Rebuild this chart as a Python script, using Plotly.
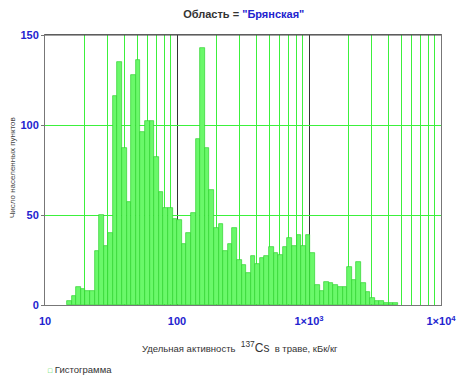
import numpy as np
import plotly.graph_objects as go

# Histogram counts per log-spaced bin (Cs-137 activity in grass, kBq/kg)
counts = [2, 5, 10, 9, 8, 8, 30, 50, 33, 40,
          116, 135, 87, 57, 128, 136, 96, 102, 102, 82,
          63, 54, 54, 48, 47, 34, 40, 51, 92, 143,
          87, 64, 43, 45, 30, 34, 43, 25, 22, 18,
          27, 23, 26, 27, 32, 29, 28, 32, 37, 33,
          39, 33, 39, 29, 11, 8, 13, 12, 11, 10,
          10, 21, 14, 24, 12, 7, 4, 2, 2, 1,
          1, 1]
# binning: first bin lower edge (log10 of kBq/kg) and bin width in decades
LOG_START = 1.1664
LOG_STEP = 0.0348

x_tick_vals = [1, 2, 3, 4]
x_tick_text = ["10", "100", "1×10<sup>3</sup>", "1×10<sup>4</sup>"]
y_tick_vals = [0, 50, 100, 150]
minor_vals = [d + np.log10(m) for d in (1, 2, 3) for m in range(2, 10)]

centers_log = [LOG_START + LOG_STEP * (i + 0.5) for i in range(len(counts))]

BLUE = "#2323cf"
GREEN_GRID = "#3cf03c"
FONT = "Arial, Liberation Sans, sans-serif"

# page body has an 8px default margin, so the figure is offset by 8px
W, H = 460, 373

fig = go.Figure()
fig.add_trace(go.Bar(
    x=centers_log, y=counts, width=LOG_STEP,
    marker=dict(color="#6af86a", line=dict(color="#2ed22e", width=0.7)),
    name="Гистограмма", showlegend=False,
))

fig.update_layout(
    width=W, height=H,
    margin=dict(l=37, r=26.5, t=27, b=76, autoexpand=False),
    paper_bgcolor="white", plot_bgcolor="white",
    bargap=0,
    font=dict(family=FONT, size=10, color="#333"),
    title=dict(
        text='<b>Область = <span style="color:#2323cf">"Брянская"</span></b>',
        x=(244 - 45) / 396.5, xref="paper", y=1 - 6 / H, yref="container",
        xanchor="center", yanchor="middle",
        font=dict(family=FONT, size=11, color="#333"),
    ),
    xaxis=dict(
        range=[1, 4], tickmode="array", tickvals=x_tick_vals, ticktext=x_tick_text,
        automargin=False,
        showgrid=True, gridcolor="#333333", gridwidth=1,
        minor=dict(tickmode="array", tickvals=minor_vals, showgrid=True,
                   gridcolor=GREEN_GRID, gridwidth=1, ticks=""),
        showline=True, linecolor="#777", linewidth=1, mirror=True,
        ticks="", ticklabelstandoff=6,
        tickfont=dict(family=FONT, size=11, color=BLUE, weight="bold"),
        zeroline=False,
    ),
    yaxis=dict(
        range=[0, 150], tickmode="array", tickvals=y_tick_vals,
        automargin=False,
        showgrid=True, gridcolor=GREEN_GRID, gridwidth=1,
        showline=True, linecolor="#777", linewidth=1, mirror=True,
        ticks="outside", ticklen=3, tickcolor="#777",
        tickfont=dict(family=FONT, size=11, color=BLUE, weight="bold"),
        zeroline=False,
    ),
)

# top border darker
fig.add_shape(type="line", xref="paper", yref="paper", x0=0, x1=1, y0=1, y1=1,
              line=dict(color="#444", width=1))

fig.add_annotation(
    text="Число населенных пунктов", textangle=-90,
    xref="paper", yref="paper", x=(12 - 45) / 396.5, y=(305 - 168) / 270,
    xanchor="center", yanchor="middle",
    showarrow=False, font=dict(family=FONT, size=8, color="#444"),
)
fig.add_annotation(
    text='Удельная активность  <span style="font-size:12px"><sup>137</sup>Cs</span>  в траве, кБк/кг',
    xref="paper", yref="paper", x=(240 - 45) / 396.5, y=(305 - 347) / 270,
    xanchor="center", yanchor="middle",
    showarrow=False, font=dict(family=FONT, size=9.5, color="#333"),
)
fig.add_annotation(
    text='<span style="color:#2ed22e;font-size:7px">□</span> Гистограмма',
    xref="paper", yref="paper", x=(46 - 45) / 396.5, y=(305 - 369) / 270,
    xanchor="left", yanchor="middle",
    showarrow=False, font=dict(family=FONT, size=9.5, color="#333"),
)

fig.write_html("out.html")
